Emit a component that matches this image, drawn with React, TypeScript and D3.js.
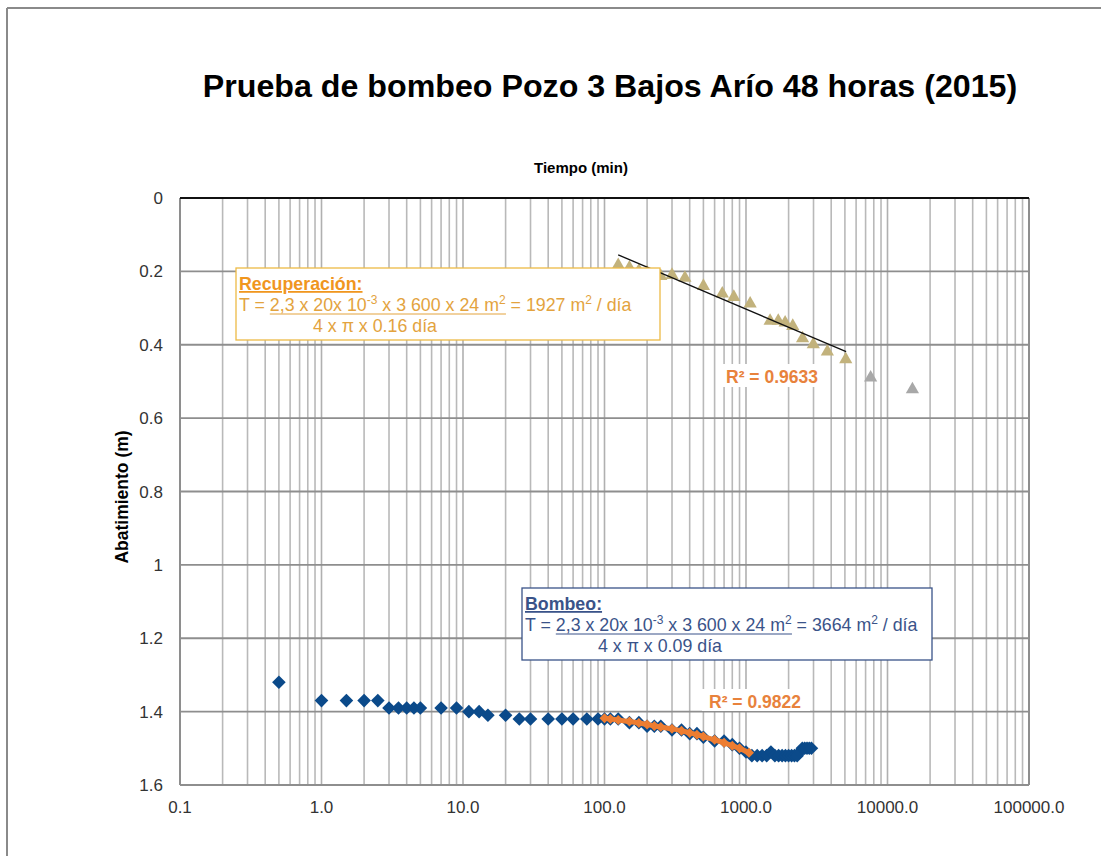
import React, { useLayoutEffect, useRef, useState } from "react";
import * as d3 from "d3";

const W = 1101;
const H = 856;

const titleText = "Prueba de bombeo Pozo 3 Bajos Arío 48 horas (2015)";
const xAxisTitle = "Tiempo  (min)";
const yAxisTitle = "Abatimiento  (m)";

const xTicks = [0.1, 1, 10, 100, 1000, 10000, 100000];
const xTickLabels = ["0.1", "1.0", "10.0", "100.0", "1000.0", "10000.0", "100000.0"];
const yTicks = [0, 0.2, 0.4, 0.6, 0.8, 1, 1.2, 1.4, 1.6];
const yTickLabels = ["0", "0.2", "0.4", "0.6", "0.8", "1", "1.2", "1.4", "1.6"];

// Bombeo (pumping) series
const bombeoTime = [
  0.5, 1, 1.5, 2, 2.5, 3, 3.5, 4, 4.5, 5, 7, 9, 11, 13, 15, 20, 25, 30, 40, 50, 60, 75, 90,
  100, 110, 125, 150, 175, 200, 225, 250, 300, 350, 400, 450, 500, 600, 700, 800, 900, 1000,
  1100, 1200, 1300, 1400, 1500, 1600, 1700, 1800, 1900, 2000, 2100, 2200, 2300, 2400, 2500,
  2600, 2700, 2800, 2900,
];
const bombeoDrawdown = [
  1.32, 1.37, 1.37, 1.37, 1.37, 1.39, 1.39, 1.39, 1.39, 1.39, 1.39, 1.39, 1.4, 1.4, 1.41, 1.41,
  1.42, 1.42, 1.42, 1.42, 1.42, 1.42, 1.42,
  1.42, 1.42, 1.42, 1.43, 1.43, 1.44, 1.44, 1.44, 1.45, 1.45, 1.46, 1.46, 1.47, 1.48, 1.48,
  1.49, 1.5, 1.51,
  1.52, 1.52, 1.52, 1.52, 1.51, 1.52, 1.52, 1.52, 1.52, 1.52, 1.52, 1.52, 1.52, 1.51, 1.5,
  1.5, 1.5, 1.5, 1.5,
];

// Orange fitted segment of the pumping test (100 – 1050 min)
const fitTime = [100, 110, 125, 150, 175, 200, 225, 250, 300, 350, 400, 450, 500, 600, 700, 800, 900, 1050];
const fitDrawdown = [1.418, 1.42, 1.423, 1.427, 1.431, 1.435, 1.439, 1.442, 1.447, 1.452, 1.458, 1.463, 1.468, 1.477, 1.485, 1.493, 1.5, 1.512];

// Recuperación (recovery) series
const recTime = [125, 150, 175, 200, 250, 300, 370, 500, 680, 820, 1070, 1480, 1690, 1890, 2140, 2510, 2990, 3760, 5070];
const recDrawdown = [0.18, 0.187, 0.195, 0.2, 0.21, 0.207, 0.215, 0.237, 0.258, 0.267, 0.285, 0.332, 0.332, 0.337, 0.346, 0.38, 0.396, 0.416, 0.437];
const recExtraTime = [7600, 15000];
const recExtraDrawdown = [0.487, 0.519];

// Recovery trendline endpoints
const recTrendTime = [125, 5100];
const recTrendDrawdown = [0.155, 0.419];

const r2Rec = "R² = 0.9633";
const r2Bom = "R² = 0.9822";

const FONT = "'Liberation Sans', Arial, Helvetica, sans-serif";
const BOX_FS = 17.8;
const SUP_FS = 12;

function FormulaBox(props: {
  x: number;
  y: number;
  w: number;
  h: number;
  stroke: string;
  titleColor: string;
  color: string;
  title: string;
  result: string;
  denom: string;
  denomX: number;
}) {
  const { x, y, w, h, stroke, titleColor, color, title, result, denom, denomX } = props;
  const startRef = useRef<SVGTSpanElement>(null);
  const endRef = useRef<SVGTSpanElement>(null);
  const [ul, setUl] = useState<[number, number] | null>(null);
  useLayoutEffect(() => {
    if (startRef.current && endRef.current) {
      const a = startRef.current.getBBox();
      const b = endRef.current.getBBox();
      setUl([a.x, b.x + b.width]);
    }
  }, []);
  const tx = x + 3;
  const b1 = y + 22;
  const b2 = y + 43;
  const b3 = y + 64;
  return (
    <g>
      <rect x={x} y={y} width={w} height={h} fill="#fff" stroke={stroke} strokeWidth={1.3} />
      <text x={tx} y={b1} fontSize={BOX_FS} fontWeight="bold" fill={titleColor} textDecoration="underline">
        {title}
      </text>
      <text x={tx} y={b2} fontSize={BOX_FS} fill={color}>
        <tspan>T = </tspan>
        <tspan ref={startRef}>2,3 x 20x 10</tspan>
        <tspan fontSize={SUP_FS} dy={-7}>-3</tspan>
        <tspan dy={7}> x 3 600 x 24 m</tspan>
        <tspan ref={endRef} fontSize={SUP_FS} dy={-7}>2</tspan>
        <tspan dy={7}>{" = " + result + " m"}</tspan>
        <tspan fontSize={SUP_FS} dy={-7}>2</tspan>
        <tspan dy={7}> / día</tspan>
      </text>
      {ul && <line x1={ul[0]} x2={ul[1]} y1={b2 + 3} y2={b2 + 3} stroke={color} strokeWidth={1.2} />}
      <text x={denomX} y={b3} fontSize={BOX_FS} fill={color}>
        {denom}
      </text>
    </g>
  );
}

export default function App() {
  const x = d3.scaleLog().domain([0.1, 100000]).range([180, 1029]);
  const y = d3.scaleLinear().domain([0, 1.6]).range([198, 785]);

  const minorX: number[] = [];
  for (let e = -1; e < 5; e++) {
    for (let m = 2; m <= 9; m++) minorX.push(m * Math.pow(10, e));
  }

  const diamond = (cx: number, cy: number, r: number) =>
    `M${cx},${cy - r}L${cx + r},${cy}L${cx},${cy + r}L${cx - r},${cy}Z`;
  const tri = (cx: number, cy: number, s: number) =>
    `M${cx},${cy - s * 0.6}L${cx + s * 0.6},${cy + s * 0.45}L${cx - s * 0.6},${cy + s * 0.45}Z`;

  const fitLine = d3
    .line<number>()
    .x((_, i) => x(fitTime[i]))
    .y((d) => y(d))
    .curve(d3.curveMonotoneX)(fitDrawdown) as string;

  const recTrend = d3
    .line<number>()
    .x((_, i) => x(recTrendTime[i]))
    .y((d) => y(d))(recTrendDrawdown) as string;

  const r2Color = "#E8823C";

  return (
    <svg
      width={W}
      height={H}
      style={{ position: "absolute", left: 0, top: 0, background: "#fff" }}
      fontFamily={FONT}
    >
      <rect x={0} y={0} width={W} height={H} fill="#fff" />
      {/* outer frame */}
      <line x1={7} y1={8} x2={W} y2={8} stroke="#8a8a8a" strokeWidth={2} />
      <line x1={7} y1={8} x2={7} y2={H} stroke="#8a8a8a" strokeWidth={2} />

      <text x={610} y={97} textAnchor="middle" fontSize={32.2} fontWeight="bold" fill="#000">
        {titleText}
      </text>
      <text x={581} y={173} textAnchor="middle" fontSize={15} fontWeight="bold" fill="#000">
        {xAxisTitle}
      </text>
      <text
        transform={`translate(128,497) rotate(-90)`}
        textAnchor="middle"
        fontSize={17.5}
        fontWeight="bold"
        fill="#000"
      >
        {yAxisTitle}
      </text>

      {/* grid */}
      {minorX.map((v, i) => (
        <line key={"mx" + i} x1={x(v)} x2={x(v)} y1={y(0)} y2={y(1.6)} stroke="#b9b9b9" strokeWidth={1.6} />
      ))}
      {xTicks.map((v, i) => (
        <line key={"Mx" + i} x1={x(v)} x2={x(v)} y1={y(0)} y2={y(1.6)} stroke="#b0b0b0" strokeWidth={1.6} />
      ))}
      {yTicks.map((v, i) => (
        <line key={"gy" + i} x1={x(0.1)} x2={x(100000)} y1={y(v)} y2={y(v)} stroke="#8e8e8e" strokeWidth={1.8} />
      ))}
      <line x1={x(0.1)} x2={x(0.1)} y1={y(0)} y2={y(1.6)} stroke="#8e8e8e" strokeWidth={2} />
      <line x1={x(100000)} x2={x(100000)} y1={y(0)} y2={y(1.6)} stroke="#8e8e8e" strokeWidth={2} />
      <line x1={x(0.1)} x2={x(100000)} y1={y(0)} y2={y(0)} stroke="#111" strokeWidth={2} />

      {/* tick labels */}
      {yTicks.map((v, i) => (
        <text key={"yt" + i} x={163} y={y(v) + 6} textAnchor="end" fontSize={17} fill="#333">
          {yTickLabels[i]}
        </text>
      ))}
      {xTicks.map((v, i) => (
        <text key={"xt" + i} x={x(v)} y={813} textAnchor="middle" fontSize={17} fill="#333">
          {xTickLabels[i]}
        </text>
      ))}

      {/* recovery series */}
      {recTime.map((t, i) => (
        <path key={"rt" + i} d={tri(x(t), y(recDrawdown[i]), 11)} fill="#C2B27C" />
      ))}
      {recExtraTime.map((t, i) => (
        <path key={"re" + i} d={tri(x(t), y(recExtraDrawdown[i]), 11)} fill="#A8A8A8" />
      ))}
      <path d={recTrend} stroke="#111" strokeWidth={1.3} fill="none" />

      {/* pumping series */}
      {bombeoTime.map((t, i) => (
        <path key={"bd" + i} d={diamond(x(t), y(bombeoDrawdown[i]), 6.8)} fill="#0B4A8A" />
      ))}
      {fitTime.map((t, i) => (
        <path key={"fd" + i} d={diamond(x(t), y(fitDrawdown[i]), 5)} fill="#ED7D31" />
      ))}
      <path d={fitLine} stroke="#ED7D31" strokeWidth={5} fill="none" strokeLinecap="round" />

      {/* R² labels */}
      <rect x={722} y={364} width={102} height={23} fill="#fff" />
      <text x={772} y={383} textAnchor="middle" fontSize={17.5} fontWeight="bold" fill={r2Color}>
        {r2Rec}
      </text>
      <rect x={702} y={689} width={108} height={22} fill="#fff" />
      <text x={755} y={708} textAnchor="middle" fontSize={17.5} fontWeight="bold" fill={r2Color}>
        {r2Bom}
      </text>

      <FormulaBox
        x={236}
        y={268}
        w={424}
        h={72}
        stroke="#EDBB45"
        titleColor="#F0961E"
        color="#E3A33E"
        title="Recuperación:"
        result="1927"
        denom="4 x π x 0.16 día"
        denomX={313}
      />
      <FormulaBox
        x={522}
        y={588}
        w={410}
        h={72}
        stroke="#3A5389"
        titleColor="#3A5389"
        color="#3A5389"
        title="Bombeo:"
        result="3664"
        denom="4 x π x 0.09 día"
        denomX={598}
      />
    </svg>
  );
}
